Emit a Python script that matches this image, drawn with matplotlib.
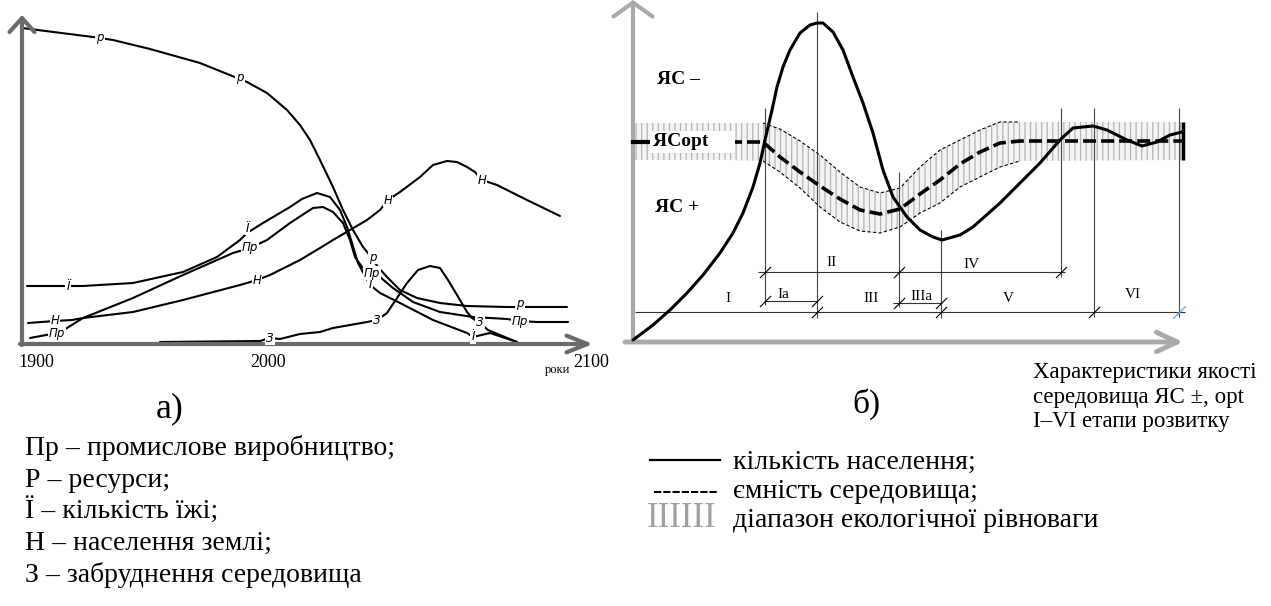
import numpy as np
import matplotlib.pyplot as plt
from matplotlib.lines import Line2D

W, H = 1271, 606
SERIF = 'Liberation Serif'
plt.rcParams['hatch.linewidth'] = 0.9

# ---- panel a): time from the vertical axis, level above the time axis ----
res_t = [0, 71, 91, 128, 178, 225, 245, 265, 278, 288, 298, 311, 321, 331, 341, 346,
         356, 365, 378, 395, 418, 445, 485, 545]
res_v = [315, 306, 303, 294, 280, 261, 250, 233, 218, 203, 183, 156, 133, 113, 96, 90,
         76, 66, 53, 45, 40, 37, 36, 36]

ind_t = [8, 35, 45, 61, 111, 161, 211, 228, 245, 268, 291, 301, 311, 321, 328, 333,
         340, 350, 358, 371, 391, 418, 451, 485, 498, 515, 546]
ind_v = [5, 10, 15, 25, 45, 68, 90, 95, 103, 120, 135, 136, 131, 120, 103, 86,
         76, 70, 66, 55, 41, 31, 26, 24, 22, 21, 21]

food_t = [5, 46, 61, 111, 161, 195, 218, 225, 241, 268, 280, 295, 308, 318, 325, 330,
          336, 348, 358, 378, 411, 445, 451, 468, 495]
food_v = [57, 57, 57, 60, 71, 86, 103, 110, 120, 136, 144, 150, 146, 133, 116, 100,
          80, 58, 50, 40, 23, 10, 6, 10, 1]

pop_t = [6, 33, 50, 61, 111, 161, 218, 235, 248, 278, 298, 311, 345, 358, 366, 378,
         398, 411, 425, 435, 445, 453, 460, 475, 505, 538]
pop_v = [20, 22, 23, 25, 31, 43, 58, 63, 68, 83, 95, 103, 123, 133, 143, 151,
         166, 178, 182, 181, 176, 171, 163, 158, 143, 127]

pol_t = [138, 238, 248, 258, 278, 298, 311, 345, 355, 365, 375, 385, 396, 408, 418,
         426, 435, 445, 450, 458, 466, 478, 495]
pol_v = [1, 2, 5, 4, 9, 11, 15, 21, 23, 30, 45, 60, 73, 77, 75,
         63, 48, 31, 25, 20, 13, 8, 1]

year_labels = ['1900', '2000', '2100']

legend_a = ['Пр – промислове виробництво;', 'Р – ресурси;', 'Ї – кількість їжі;',
            'Н – населення землі;', 'З – забруднення середовища']

# ---- panel б): development time and environment quality ----
people_t = [0, 20, 37, 54, 70, 87, 100, 110, 120, 127, 132, 139, 144, 150, 157, 167,
            177, 184, 190, 200, 210, 220, 230, 240, 250, 260, 274, 287, 300, 309,
            327, 340, 367, 387, 407, 420, 429, 440, 460, 474, 494, 509, 524, 537, 549]
people_v = [2, 17, 32, 49, 67, 89, 109, 129, 155, 179, 202, 232, 255, 275, 292, 309,
            317, 319, 319, 310, 292, 265, 239, 209, 172, 145, 125, 112, 105, 102,
            107, 115, 139, 159, 179, 194, 204, 214, 216, 212, 202, 196, 200, 207, 210]

band_t = [0, 17, 96, 130, 147, 167, 187, 207, 227, 247, 267, 287, 307, 327, 347, 367, 387, 550]
band_mid = [200, 200, 200, 200, 185, 170, 156, 143, 132, 128, 133, 148, 162, 178, 190, 199, 201, 201]
band_hi = [219, 219, 219, 219, 213, 201, 187, 170, 155, 149, 154, 175, 192, 202, 212, 220, 220, 220]
band_lo = [182, 182, 182, 181, 170, 154, 135, 120, 111, 109, 115, 129, 139, 155, 165, 175, 181, 182]

stage_t = [132, 184, 266, 308, 428, 461, 546]
stage_lo = [37, 24, 35, 24, 65, 25, 25]
stage_hi = [234, 330, 170, 112, 234, 234, 234]

span_v = [30, 70, 41, 39]
span_from = [2, 125, 132, 260]
span_to = [552, 432, 184, 308]

stage_names = ['I', 'Ia', 'II', 'III', 'IIIa', 'IV', 'V', 'VI']
stage_name_t = [95, 150, 199, 238, 288, 338, 375, 500]
stage_name_v = [44, 48, 79, 44, 45, 78, 44, 48]

legend_b = ['кількість населення;', 'ємність середовища;', 'діапазон екологічної рівноваги']
caption_b = ['Характеристики якості', 'середовища ЯС ±, opt', 'I–VI етапи розвитку']

fig = plt.figure(figsize=(W / 100, H / 100), dpi=100)


def ftext(x, y, s, **kw):
    kw.setdefault('family', SERIF)
    return fig.text(x / W, 1 - y / H, s, **kw)


#%% panel a
ax1 = fig.add_axes([0, 1 - 380 / H, 640 / W, 380 / H])
ax1.set_xlim(-22, 618)
ax1.set_ylim(-37, 343)
ax1.axis('off')

grey_a = '#6b6b6b'
ax1.annotate('', xy=(571, -1), xytext=(-2, -1), annotation_clip=False,
             arrowprops=dict(arrowstyle='->,head_length=0.75,head_width=0.3',
                             mutation_scale=20, lw=3, color=grey_a, shrinkA=0, shrinkB=0))
ax1.annotate('', xy=(0, 328), xytext=(0, -2), annotation_clip=False,
             arrowprops=dict(arrowstyle='->,head_length=0.5,head_width=0.45',
                             mutation_scale=20, lw=3, color=grey_a, shrinkA=0, shrinkB=0))

for tt, vv in [(res_t, res_v), (ind_t, ind_v), (food_t, food_v), (pop_t, pop_v), (pol_t, pol_v)]:
    ax1.plot(tt, vv, color='black', lw=1.5, solid_capstyle='round')

curve_labels = [
    ('р', [(78, 305), (218, 266), (351, 86), (498, 39)]),
    ('Ї', [(46, 57), (225, 115), (348, 58), (451, 6)]),
    ('Пр', [(35, 10), (228, 95), (350, 70), (498, 22)]),
    ('Н', [(33, 22), (235, 63), (366, 143), (460, 163)]),
    ('З', [(248, 5), (355, 23), (458, 20)]),
]
for name, spots in curve_labels:
    for tx, vy in spots:
        ax1.text(tx, vy, name, fontsize=8.5, style='italic', family='DejaVu Sans',
                 ha='center', va='center',
                 bbox=dict(fc='white', ec='none', pad=0.6))

for lab, x in zip(year_labels, [18, 250, 573]):
    ftext(x, 367, lab, fontsize=13, ha='left', va='baseline')
ftext(545, 373, 'роки', fontsize=9, ha='left', va='baseline')

ftext(170, 417, 'а)', fontsize=26, ha='center', va='baseline')
for i, line in enumerate(legend_a):
    ftext(25, 455 + i * 31.7, line, fontsize=20, ha='left', va='baseline')

#%% panel б
ax2 = fig.add_axes([605 / W, 1 - 352 / H, (W - 605) / W, 352 / H])
ax2.set_xlim(-28, 638)
ax2.set_ylim(-10, 342)
ax2.axis('off')

grey_b = '#a9a9a9'
ax2.annotate('', xy=(550, 0), xytext=(-8, 0), annotation_clip=False,
             arrowprops=dict(arrowstyle='->,head_length=0.75,head_width=0.35',
                             mutation_scale=20, lw=3.5, color=grey_b, shrinkA=0, shrinkB=0))
ax2.annotate('', xy=(0, 342), xytext=(0, 0), annotation_clip=False,
             arrowprops=dict(arrowstyle='->,head_length=0.5,head_width=0.7',
                             mutation_scale=20, lw=3, color=grey_b, shrinkA=0, shrinkB=0))

band_t = np.array(band_t)
ax2.fill_between(band_t, band_lo, band_hi, facecolor='#f4f4f4', edgecolor='#b5b5b5',
                 hatch='|||', lw=0, zorder=1)
edge = (band_t >= 130) & (band_t <= 387)
for arr in (band_hi, band_lo):
    ax2.plot(band_t[edge], np.array(arr)[edge], color='black', lw=0.8,
             dashes=(3, 2), zorder=2)

mid = np.array(band_mid)
left_part = band_t <= 17
right_part = band_t >= 96
ax2.plot(band_t[left_part], mid[left_part], color='black', lw=3, zorder=3)
ax2.plot(band_t[right_part], mid[right_part], color='black', lw=2.6,
         dashes=(3.6, 1.4), zorder=3)
ax2.vlines(band_t[-1], band_lo[-1], band_hi[-1], color='black', lw=2.5, zorder=3)

ax2.vlines(stage_t, stage_lo, stage_hi, color='#444444', lw=0.8, zorder=2)
ax2.hlines(span_v, span_from, span_to, color='#333333', lw=0.8, zorder=2)
slash = [(-1, -1), (1, 1)]
ax2.plot([184, 308, 461], [30] * 3, ls='none', marker=slash, ms=8, mec='black', mew=0.8)
ax2.plot([546], [30], ls='none', marker=slash, ms=9, mec='#6fa8dc', mew=1.0)
ax2.plot([132, 266, 428], [70] * 3, ls='none', marker=slash, ms=8, mec='black', mew=0.8)
ax2.plot([132, 184], [41] * 2, ls='none', marker=slash, ms=8, mec='black', mew=0.8)
ax2.plot([266, 308], [39] * 2, ls='none', marker=slash, ms=8, mec='black', mew=0.8)

ax2.plot(people_t, people_v, color='black', lw=2.2, zorder=4, solid_capstyle='round')

for name, tx, vy in zip(stage_names, stage_name_t, stage_name_v):
    ax2.text(tx, vy, name, fontsize=11, family=SERIF, ha='center', va='center')

ax2.text(45, 262, 'ЯС –', fontsize=14, weight='bold', family=SERIF, ha='center', va='center')
ax2.text(44, 135, 'ЯС +', fontsize=14, weight='bold', family=SERIF, ha='center', va='center')
ax2.text(20, 200, 'ЯСopt     ', fontsize=14, weight='bold', family=SERIF,
         ha='left', va='center', zorder=5,
         bbox=dict(fc='white', ec='none', pad=2))

ftext(866, 413, 'б)', fontsize=24, ha='center', va='baseline')
for i, line in enumerate(caption_b):
    ftext(1033, 378 + i * 24.5, line, fontsize=16.5, ha='left', va='baseline')

fig.add_artist(Line2D([650 / W, 720 / W], [1 - 460 / H, 1 - 460 / H], color='black', lw=1.6))
ftext(653, 498, '-------', fontsize=20, ha='left', va='baseline')
ftext(647, 527, 'IIIIII', fontsize=25, color='#a0a0a0', ha='left', va='baseline')
for i, line in enumerate(legend_b):
    ftext(733, 469 + i * 29, line, fontsize=20, ha='left', va='baseline')

fig.savefig('out.png', dpi=100)
